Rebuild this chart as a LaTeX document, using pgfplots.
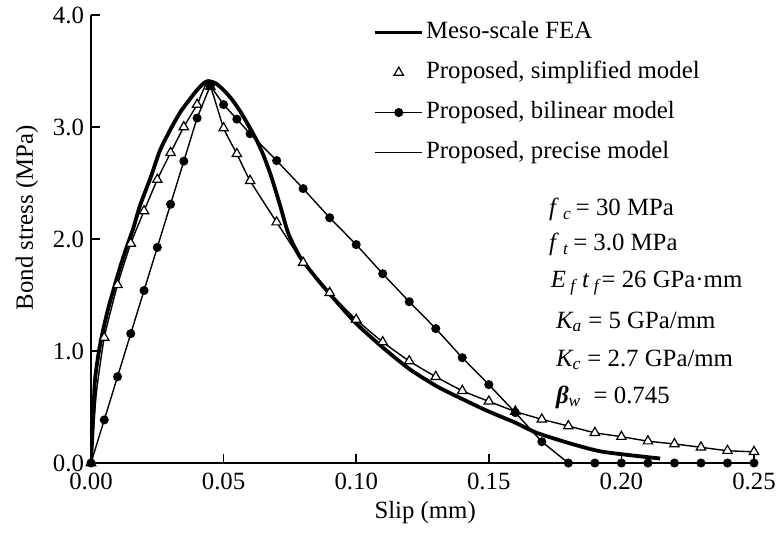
\documentclass[border=0pt]{standalone}
\usepackage{fontspec}
\setmainfont{Liberation Serif}
\usepackage{pgfplots}
\pgfplotsset{compat=1.18}

\begin{document}
\begin{tikzpicture}[font=\fontsize{12.4pt}{14pt}\selectfont]
\useasboundingbox (-45.5pt,-35pt) rectangle (342.5pt,231.5pt);
\begin{axis}[
  scale only axis,width=331.5pt,height=224pt,
  xmin=0,xmax=0.25,ymin=0,ymax=4,
  axis lines=left,axis line style={-,line width=0.8pt},
  tick align=inside,major tick length=4.5pt,
  tick style={line width=0.7pt,black},
  xtick={0,0.05,...,0.25},ytick={0,1,2,3,4},
  xticklabel style={/pgf/number format/fixed,/pgf/number format/fixed zerofill,
    /pgf/number format/precision=2,yshift=-1.5pt},
  yticklabel style={/pgf/number format/fixed,/pgf/number format/fixed zerofill,
    /pgf/number format/precision=1},
  /pgf/number format/assume math mode=true,
  scaled x ticks=false,
  xlabel={Slip (mm)},ylabel={Bond stress (MPa)},
  xlabel style={at={(axis description cs:0.504,-0.11)},anchor=center},
  ylabel style={at={(axis description cs:-0.0965,0.547)},anchor=center},
  legend style={at={(axis description cs:0.4253,0.993)},anchor=north west,
    draw=none,fill=none,inner sep=0pt,row sep=6pt,
    nodes={inner sep=1pt,text height=9.2pt,text depth=2.8pt}},
  legend cell align=left,
  legend image code/.code={\draw[mark repeat=2,mark phase=2,#1]
    plot coordinates {(0pt,0pt)(11.75pt,0pt)(23.5pt,0pt)};},
]
% meso-scale FEA
\addplot[black,line width=1.9pt,smooth,tension=0.4] coordinates {
 (0,0)(0.0008,0.40)(0.0015,0.74)(0.003,1.00)(0.0046,1.19)(0.0065,1.38)
 (0.0084,1.54)(0.011,1.75)(0.0135,1.93)(0.016,2.10)(0.0185,2.30)
 (0.0225,2.55)(0.026,2.79)(0.030,2.98)(0.0336,3.13)(0.037,3.24)
 (0.040,3.33)(0.0425,3.39)(0.0442,3.41)(0.047,3.39)(0.050,3.33)
 (0.053,3.25)(0.056,3.15)(0.059,3.03)(0.0625,2.88)(0.065,2.75)
 (0.0675,2.59)(0.069,2.48)(0.0713,2.30)(0.0744,2.05)(0.0788,1.84)
 (0.085,1.65)(0.090,1.51)(0.0998,1.25)(0.1096,1.04)(0.120,0.84)
 (0.130,0.69)(0.1366,0.61)(0.149,0.47)(0.160,0.36)(0.168,0.27)
 (0.1806,0.175)(0.193,0.10)(0.2146,0.04)};
\addlegendentry{Meso-scale FEA}
% simplified model
\addplot[only marks,black,mark=triangle*,mark size=2.7pt,
  mark options={fill=white,line width=0.6pt}] coordinates {
 (0,0)(0.005,1.12)(0.010,1.59)(0.015,1.96)(0.020,2.25)(0.025,2.53)
 (0.030,2.77)(0.035,3.00)(0.040,3.20)(0.045,3.36)(0.050,2.99)
 (0.055,2.76)(0.060,2.52)(0.070,2.15)(0.080,1.79)(0.090,1.52)
 (0.100,1.28)(0.110,1.08)(0.120,0.91)(0.130,0.77)(0.140,0.645)
 (0.150,0.55)(0.160,0.46)(0.170,0.39)(0.180,0.33)(0.190,0.27)
 (0.200,0.235)(0.210,0.195)(0.220,0.17)(0.230,0.14)(0.240,0.11)
 (0.250,0.10)};
\addlegendentry{Proposed, simplified model}
% bilinear model
\addplot[black,line width=0.7pt,mark=*,mark size=1.9pt] coordinates {
 (0,0)(0.005,0.385)(0.010,0.77)(0.015,1.155)(0.020,1.54)(0.025,1.925)
 (0.030,2.31)(0.035,2.695)(0.040,3.08)(0.045,3.37)(0.050,3.20)
 (0.055,3.07)(0.060,2.94)(0.070,2.70)(0.080,2.45)(0.090,2.19)
 (0.100,1.95)(0.110,1.69)(0.120,1.44)(0.130,1.20)(0.140,0.94)
 (0.150,0.70)(0.160,0.45)(0.170,0.19)(0.180,0)(0.190,0)(0.200,0)
 (0.210,0)(0.220,0)(0.230,0)(0.240,0)(0.250,0)};
\addlegendentry{Proposed, bilinear model}
% precise model
\addplot[black,line width=0.7pt,smooth,tension=0.3] coordinates {
 (0,0)(0.002,0.62)(0.005,1.12)(0.010,1.59)(0.015,1.96)(0.020,2.25)
 (0.025,2.53)(0.030,2.77)(0.035,3.00)(0.040,3.20)(0.0443,3.40)
 (0.050,2.99)(0.055,2.76)(0.060,2.52)(0.070,2.15)(0.080,1.79)
 (0.090,1.52)(0.100,1.28)(0.110,1.08)(0.120,0.91)(0.130,0.77)
 (0.140,0.645)(0.150,0.55)(0.160,0.46)(0.170,0.39)(0.180,0.33)
 (0.190,0.27)(0.200,0.235)(0.210,0.195)(0.220,0.17)(0.230,0.14)
 (0.240,0.11)(0.250,0.10)};
\addlegendentry{Proposed, precise model}

\node[anchor=west,inner sep=0pt] at (axis cs:0.1726,2.26)
  {\textit{f}\,\textsubscript{\textit{c}}\,= 30 MPa};
\node[anchor=west,inner sep=0pt] at (axis cs:0.1726,1.95)
  {\textit{f}\,\textsubscript{\textit{t}}\,= 3.0 MPa};
\node[anchor=west,inner sep=0pt] at (axis cs:0.1733,1.61)
  {\textit{E}\,\textsubscript{\textit{f}}\,\textit{t}\,\textsubscript{\textit{f}}= 26 GPa·mm};
\node[anchor=west,inner sep=0pt] at (axis cs:0.1752,1.26)
  {\textit{K\textsubscript{a}} = 5 GPa/mm};
\node[anchor=west,inner sep=0pt] at (axis cs:0.1752,0.92)
  {\textit{K\textsubscript{c}} = 2.7 GPa/mm};
\node[anchor=west,inner sep=0pt] at (axis cs:0.1752,0.59)
  {\textbf{\textit{β}}\textsubscript{\textit{w}} \ = 0.745};
\end{axis}
\end{tikzpicture}
\end{document}
